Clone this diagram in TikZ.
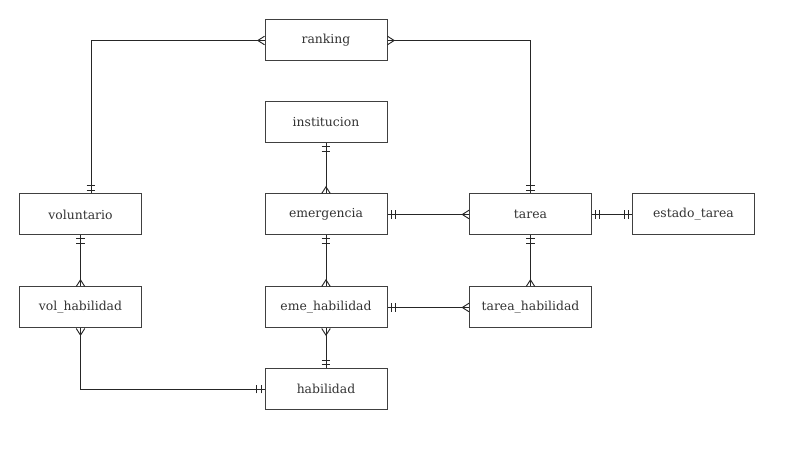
\documentclass[tikz,border=0pt]{standalone}
\usepackage{fontspec}
\setmainfont{DejaVu Serif}
\usetikzlibrary{decorations.markings}

\tikzset{
  entity/.style={draw=black!75, line width=0.75pt, fill=white,
    minimum width=91.5pt, minimum height=30.75pt, inner sep=0pt,
    font=\fontsize{9.3}{11}\selectfont, text=black!80},
  rel/.style={draw=black!85, line width=0.7pt},
  one from/.style={postaction={decorate,decoration={markings,
      mark=at position 2.6pt with {\draw[rel] (0pt,-3.3pt) -- (0pt,3.3pt);},
      mark=at position 5.8pt with {\draw[rel] (0pt,-3.3pt) -- (0pt,3.3pt);}}}},
  one to/.style={postaction={decorate,decoration={markings,
      mark=at position -2.6pt with {\draw[rel] (0pt,-3.3pt) -- (0pt,3.3pt);},
      mark=at position -5.8pt with {\draw[rel] (0pt,-3.3pt) -- (0pt,3.3pt);}}}},
  many from/.style={postaction={decorate,decoration={markings,
      mark=at position 5pt with {\draw[rel] (-5pt,3.2pt) -- (0pt,0pt) -- (-5pt,-3.2pt);}}}},
  many to/.style={postaction={decorate,decoration={markings,
      mark=at position -5pt with {\draw[rel] (5pt,3.2pt) -- (0pt,0pt) -- (5pt,-3.2pt);}}}}
}

\begin{document}
\begin{tikzpicture}[x=0.75pt, y=-0.75pt]
  \useasboundingbox (0,0) rectangle (801,466);

  % entities
  \node[entity] (ranking) at (326,40.5) {ranking};
  \node[entity] (institucion) at (326,122.5) {institucion};
  \node[entity] (voluntario) at (80.5,214.5) {voluntario};
  \node[entity] (emergencia) at (326,214.5) {emergencia};
  \node[entity] (tarea) at (530.5,214.5) {tarea};
  \node[entity] (estado) at (693.5,214.5) {estado\_tarea};
  \node[entity] (volhab) at (80.5,307.5) {vol\_habilidad};
  \node[entity] (emehab) at (326,307.5) {eme\_habilidad};
  \node[entity] (tareahab) at (530.5,307.5) {tarea\_habilidad};
  \node[entity] (habilidad) at (326,389) {habilidad};

  % relations
  \draw[rel, many from, one to] (ranking.west) -| ([xshift=7.9pt]voluntario.north);
  \draw[rel, many from, one to] (ranking.east) -| (tarea.north);
  \draw[rel, one from, many to] (institucion.south) -- (emergencia.north);
  \draw[rel, one from, many to] (emergencia.east) -- (tarea.west);
  \draw[rel, one from, one to] (tarea.east) -- (estado.west);
  \draw[rel, one from, many to] (voluntario.south) -- (volhab.north);
  \draw[rel, one from, many to] (emergencia.south) -- (emehab.north);
  \draw[rel, one from, many to] (tarea.south) -- (tareahab.north);
  \draw[rel, one from, many to] (emehab.east) -- (tareahab.west);
  \draw[rel, many from, one to] (volhab.south) |- (habilidad.west);
  \draw[rel, many from, one to] (emehab.south) -- (habilidad.north);
\end{tikzpicture}
\end{document}
